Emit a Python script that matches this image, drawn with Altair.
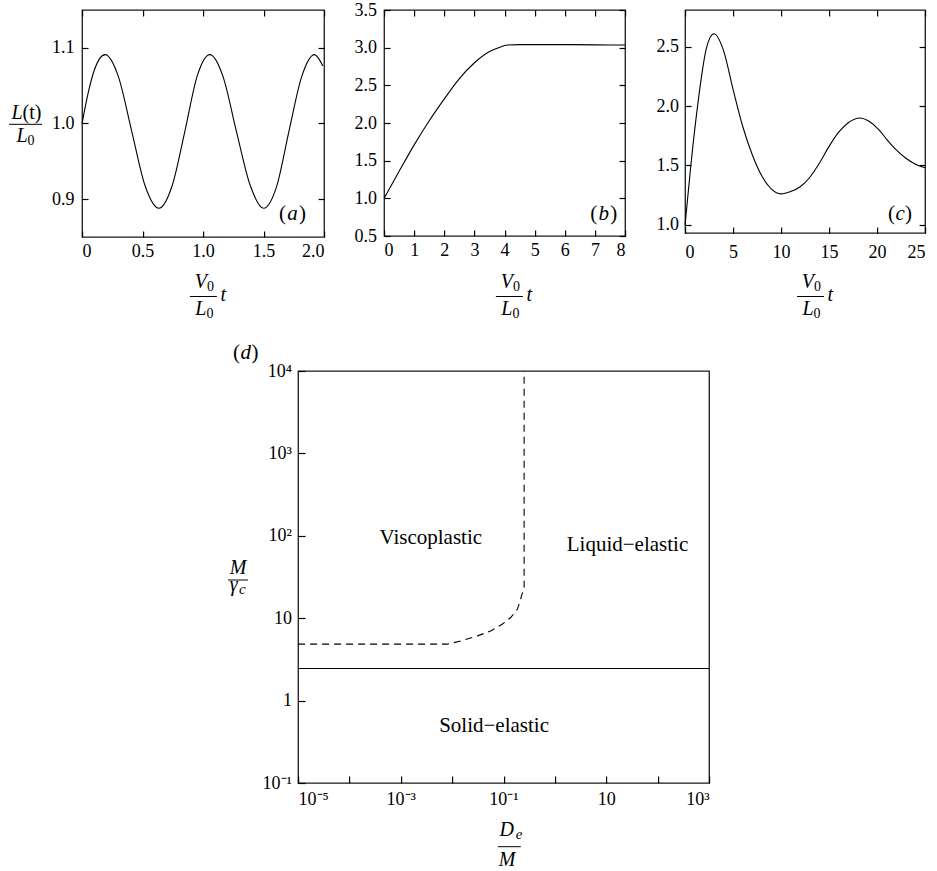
import altair as alt
import pandas as pd

SERIF = "Liberation Serif"

# ---------------- data ----------------
# (a) oscillating stretch ratio
a_t = [0, 0.05, 0.10, 0.19, 0.30, 0.41, 0.52, 0.635, 0.745, 0.85, 0.95, 1.056,
       1.165, 1.275, 1.39, 1.50, 1.61, 1.71, 1.815, 1.92, 1.99]
a_L = [1.0, 1.04, 1.07, 1.091, 1.062, 0.99, 0.918, 0.888, 0.918, 0.99, 1.062, 1.091,
       1.062, 0.99, 0.918, 0.888, 0.918, 0.99, 1.062, 1.091, 1.076]
a_xticks = [0, 0.5, 1.0, 1.5, 2.0]
a_yticks = [0.9, 1.0, 1.1]

# (b) monotone rise to plateau
b_t = [0, 0.5, 1.0, 1.5, 2.0, 2.5, 3.0, 3.5, 3.8, 4.1, 4.5, 5, 6, 7, 8]
b_L = [1.0, 1.36, 1.71, 2.03, 2.32, 2.59, 2.80, 2.95, 3.0, 3.035, 3.04, 3.04, 3.04, 3.037, 3.035]
b_xticks = [0, 1, 2, 3, 4, 5, 6, 7, 8]
b_yticks = [0.5, 1.0, 1.5, 2.0, 2.5, 3.0, 3.5]

# (c) damped oscillation
c_t = [0, 0.6, 1.3, 2.2, 3.0, 4.0, 5.0, 6.0, 7.0, 8.0, 9.0, 10.0, 11.0, 12.0, 13.0,
       14.0, 15.0, 16.0, 17.0, 18.2, 19.2, 20.2, 21.0, 22.0, 23.0, 24.0, 25.0]
c_L = [1.0, 1.5, 2.0, 2.48, 2.61, 2.47, 2.14, 1.83, 1.59, 1.41, 1.30, 1.26, 1.28, 1.32, 1.40,
       1.52, 1.66, 1.78, 1.86, 1.90, 1.87, 1.80, 1.72, 1.63, 1.56, 1.51, 1.48]
c_xticks = [0, 5, 10, 15, 20, 25]
c_yticks = [1.0, 1.5, 2.0, 2.5]

# (d) regime map
d_bound_x = [1e-5, 0.0081, 0.0148, 0.031, 0.056, 0.0955, 0.138, 0.186, 0.2, 0.229, 0.251, 0.251]
d_bound_y = [4.84, 4.84, 5.31, 6.1, 7.0, 8.5, 10.2, 12.9, 14.8, 19.6, 23.5, 10000]
d_solid_x = [1e-5, 1e3]
d_solid_y = [2.45, 2.45]
regions = ["Viscoplastic", "Liquid\u2212elastic", "Solid\u2212elastic"]
region_x = [0.00383, 25.8, 0.0653]
region_y = [93.5, 76.9, 0.495]
d_xticks = [1e-5, 1e-4, 1e-3, 1e-2, 1e-1, 1, 10, 100, 1000]
d_xlabels = {-5: "10\u207b\u2075", -3: "10\u207b\u00b3", -1: "10\u207b\u00b9", 1: "10", 3: "10\u00b3"}
d_yticks = [0.1, 1, 10, 100, 1000, 10000]
d_ylabels = {-1: "10\u207b\u00b9", 0: "1", 1: "10", 2: "10\u00b2", 3: "10\u00b3", 4: "10\u2074"}

ONE = alt.Data(values=[{"k": 0}])


def txt(s, x, y, size=20, italic=False, align="center"):
    return alt.Chart(ONE).mark_text(
        text=s, font=SERIF, fontSize=size, color="black",
        fontStyle="italic" if italic else "normal",
        align=align, baseline="alphabetic",
    ).encode(x=alt.value(x), y=alt.value(y))


def bar(x1, x2, y):
    return alt.Chart(ONE).mark_rule(color="black", strokeWidth=1).encode(
        x=alt.value(x1), x2=alt.value(x2), y=alt.value(y))


def panel_label(letter, cx, base, gap):
    return [txt("(", cx - gap, base, 21, False, "right"),
            txt(letter, cx, base, 21, True, "center"),
            txt(")", cx + gap, base, 21, False, "left")]


def v0_title(cx):
    return [txt("V", cx + 3.5, 278, 20, True, "right"),
            txt("0", cx + 3.5, 281, 14, False, "left"),
            bar(cx - 13.5, cx + 13.5, 286.5),
            txt("L", cx + 3, 305, 20, True, "right"),
            txt("0", cx + 3, 308, 14, False, "left"),
            txt("t", cx + 17, 291, 20, True, "left")]


def top_panel(t, v, W, H, xdom, ydom, xticks, yticks, xexpr, yexpr, xpad, ypad, extra):
    df = pd.DataFrame({"t": t, "v": v})
    xs = alt.Scale(domain=xdom, nice=False, zero=False)
    ys = alt.Scale(domain=ydom, nice=False, zero=False)
    common = dict(grid=False, domain=False, tickSize=6, offset=-6,
                  tickColor="black", tickWidth=1.2)
    line = alt.Chart(df).mark_line(color="black", strokeWidth=1.1, interpolate="monotone").encode(
        x=alt.X("t:Q", scale=xs, title=None,
                axis=alt.Axis(values=xticks, labelExpr=xexpr, orient="bottom",
                              labelPadding=xpad, **common)),
        y=alt.Y("v:Q", scale=ys, title=None,
                axis=alt.Axis(values=yticks, labelExpr=yexpr, orient="left",
                              labelPadding=ypad, **common)),
    )
    mirror = alt.Chart(df).mark_line(opacity=0).encode(
        x=alt.X("t:Q", scale=xs, title=None,
                axis=alt.Axis(values=xticks, labels=False, orient="top", **common)),
        y=alt.Y("v:Q", scale=ys, title=None,
                axis=alt.Axis(values=yticks, labels=False, orient="right", **common)),
    )
    return alt.layer(line, mirror, *extra).resolve_axis(
        x="independent", y="independent").properties(width=W, height=H)


FMT1 = "format(datum.value, '.1f')"
FMT0 = "format(datum.value, 'd')"

# ---- panel (a)
a_extra = [
    txt("L", -59.5, 108.7, 20, True, "right"),
    txt("(t)", -59.5, 108.7, 20, False, "left"),
    bar(-73, -40, 114.3),
    txt("L", -54.5, 132, 20, True, "right"),
    txt("0", -54.5, 134.7, 14, False, "left"),
] + v0_title(121.3) + panel_label("a", 242 - 31.5, 210.3, 6.5)
pa = top_panel(a_t, a_L, 242, 227, [0, 2], [0.85, 1.15], a_xticks, a_yticks,
               "datum.value == 0 ? '0' : " + FMT1, FMT1, 5, 8, a_extra)

# ---- panel (b)
b_extra = v0_title(125.3) + panel_label("b", 241 - 21.3, 210.3, 6.5)
pb = top_panel(b_t, b_L, 241, 226, [0, 8], [0.5, 3.5], b_xticks, b_yticks,
               FMT0, FMT1, 5, 7.7, b_extra)

# ---- panel (c)
c_extra = v0_title(125.5) + panel_label("c", 240 - 25, 210.3, 5)
pc = top_panel(c_t, c_L, 240, 223, [0, 25], [0.93, 2.81], c_xticks, c_yticks,
               FMT0, FMT1, 10, 6.7, c_extra)


# ---- panel (d)
def log_expr(mapping):
    e = "round(log(datum.value)/LN10)"
    expr = "''"
    for k in sorted(mapping, reverse=True):
        expr = f"{e} == {k} ? '{mapping[k]}' : ({expr})"
    return expr


dxs = alt.Scale(type="log", domain=[1e-5, 1e3], nice=False)
dys = alt.Scale(type="log", domain=[0.1, 1e4], nice=False)
dcommon = dict(grid=False, domain=False, tickSize=7, offset=-7,
               tickColor="black", tickWidth=1.2)
dxa = alt.Axis(values=d_xticks, labelExpr=log_expr(d_xlabels), orient="bottom",
               labelPadding=7, **dcommon)
dya = alt.Axis(values=d_yticks, labelExpr=log_expr(d_ylabels), orient="left",
               labelPadding=6.6, **dcommon)

bound_df = pd.DataFrame({"x": d_bound_x, "y": d_bound_y, "i": list(range(len(d_bound_x)))})
solid_df = pd.DataFrame({"x": d_solid_x, "y": d_solid_y})
reg_df = pd.DataFrame({"name": regions, "x": region_x, "y": region_y})

d_dash = alt.Chart(bound_df).mark_line(color="black", strokeWidth=1.1, strokeDash=[7, 5]).encode(
    x=alt.X("x:Q", scale=dxs, axis=dxa, title=None),
    y=alt.Y("y:Q", scale=dys, axis=dya, title=None),
    order=alt.Order("i:Q"),
)
d_solid = alt.Chart(solid_df).mark_line(color="black", strokeWidth=1.1).encode(
    x=alt.X("x:Q", scale=dxs, axis=dxa, title=None),
    y=alt.Y("y:Q", scale=dys, axis=dya, title=None),
)
d_text = alt.Chart(reg_df).mark_text(font=SERIF, fontSize=21, color="black",
                                     baseline="middle", align="center").encode(
    x=alt.X("x:Q", scale=dxs, axis=dxa, title=None),
    y=alt.Y("y:Q", scale=dys, axis=dya, title=None),
    text="name:N",
)
d_extra = panel_label("d", -52.3, -11.7, 5.7) + [
    txt("M", -60, 203.3, 20, True, "center"),
    bar(-70, -50, 209),
    txt("\u03b3", -64.3, 220, 20, True, "center"),
    txt("c", -59, 223.3, 15, True, "left"),
    txt("D", 208.7, 465, 20, True, "center"),
    txt("e", 217.7, 468, 15, True, "left"),
    bar(199.7, 222.7, 475.7),
    txt("M", 209, 495, 20, True, "center"),
]
pd_ = alt.layer(d_dash, d_solid, d_text, *d_extra).properties(width=411, height=412)

top = alt.hconcat(pa, pb, pc, spacing=60, bounds="flush")
chart = alt.vconcat(top, pd_, spacing=19, center=True).properties(
    padding={"left": 7, "top": 0, "right": 0, "bottom": 0}
).configure_view(stroke="#1a1a1a", strokeWidth=1.3).configure_axis(
    labelFont=SERIF, labelFontSize=18, labelColor="black"
)

chart.save("out.html", embed_options={"renderer": "svg", "actions": False})
